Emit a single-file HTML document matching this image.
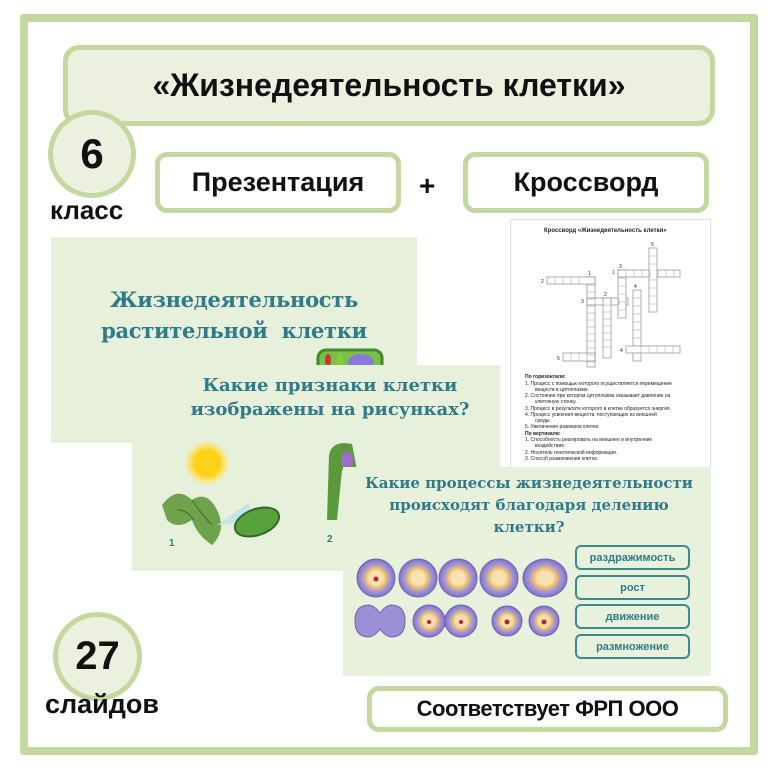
<!DOCTYPE html>
<html><head><meta charset="utf-8"><style>
*{margin:0;padding:0;box-sizing:border-box}
body{width:771px;height:771px;background:#fff;position:relative;overflow:hidden;font-family:"Liberation Sans","DejaVu Sans",sans-serif}
.abs{position:absolute}
.box{position:absolute;border:5px solid #c4d79e;border-radius:12px;display:flex;align-items:center;justify-content:center;font-weight:bold;color:#111}
.circ{position:absolute;border:5px solid #c4d79e;border-radius:50%;background:#ebf1de;display:flex;align-items:center;justify-content:center;font-weight:bold;color:#111}
.slide{position:absolute;background:#e6f0da}
.ser{font-family:"DejaVu Serif",serif;font-weight:bold;font-style:normal;color:#2f7b8a;text-align:center;position:absolute;white-space:nowrap}
.btn{position:absolute;left:575px;width:115px;height:25px;border:2px solid #3c8b8c;border-radius:6px;color:#2f7b8a;font-weight:bold;font-size:11px;display:flex;align-items:center;justify-content:center}
</style></head><body>
<div class="abs" style="left:20px;top:14px;width:738px;height:741px;border:8px solid #c4d79e;border-radius:3px"></div>
<div class="box" style="left:63px;top:45px;width:652px;height:81px;background:#ebf1de;border-radius:16px;font-size:32px">«Жизнедеятельность клетки»</div>
<div class="circ" style="left:48px;top:110px;width:88px;height:88px;font-size:42px">6</div>
<div class="abs" style="left:50px;top:195px;font-size:26px;font-weight:bold;color:#111">класс</div>
<div class="box" style="left:155px;top:152px;width:246px;height:61px;background:#fff;font-size:27px">Презентация</div>
<div class="abs" style="left:419px;top:170px;font-size:28px;font-weight:bold;color:#111">+</div>
<div class="box" style="left:463px;top:152px;width:246px;height:61px;background:#fff;font-size:27px">Кроссворд</div>

<!-- crossword -->
<div class="abs" style="left:510px;top:219px;width:201px;height:255px;background:#fff;border:1px solid #ddd"></div>
<svg class="abs" style="left:0;top:0" width="771" height="771" font-family="Liberation Sans" font-size="5" fill="#222">
<text x="544" y="232" font-weight="bold" font-size="6">Кроссворд «Жизнедеятельность клетки»</text>
<g fill="#fff" stroke="#777" stroke-width="0.6">
<rect x="587" y="277" width="8" height="90"/>
<rect x="547" y="277" width="48" height="7"/>
<rect x="587" y="298" width="41" height="7"/>
<rect x="603" y="298" width="8" height="60"/>
<rect x="618" y="270" width="8" height="48"/>
<rect x="618" y="270" width="62" height="7"/>
<rect x="649" y="248" width="8" height="64"/>
<rect x="633" y="290" width="8" height="71"/>
<rect x="626" y="346" width="54" height="7"/>
<rect x="563" y="353" width="32" height="8"/>
</g>
<g stroke="#888" stroke-width="0.4">
<path d="M555 277v7M563 277v7M571 277v7M579 277v7M587 285h8M587 292h8M587 299h8M587 306h8M587 313h8M587 320h8M587 327h8M587 334h8M587 341h8M587 348h8M587 355h8M587 362h8M595 298v7M611 298v7M619 298v7M603 305h8M603 312h8M603 319h8M603 326h8M603 333h8M603 340h8M603 347h8M626 270v7M634 270v7M642 270v7M650 270v7M658 270v7M666 270v7M674 270v7M618 278h8M618 286h8M618 294h8M618 302h8M618 310h8M649 256h8M649 264h8M649 280h8M649 288h8M649 296h8M649 304h8M633 298h8M633 306h8M633 314h8M633 322h8M633 330h8M633 338h8M641 346v7M649 346v7M657 346v7M665 346v7M673 346v7M571 353v8M579 353v8M587 353v8"/>
</g>
<text x="651" y="246">5</text><text x="619" y="268">3</text><text x="612" y="274">1</text>
<text x="588" y="275">1</text><text x="541" y="283">2</text><text x="581" y="303">3</text>
<text x="604" y="296">2</text><text x="634" y="288">4</text><text x="620" y="352">4</text><text x="557" y="360">5</text>
<text x="525" y="378" font-weight="bold">По горизонтали:</text>
<text x="525" y="385">1.   Процесс с помощью которого осуществляется перемещение</text>
<text x="535" y="391">веществ в цитоплазме.</text>
<text x="525" y="397">2.   Состояние при котором цитоплазма оказывает давление на</text>
<text x="535" y="403">клеточную стенку.</text>
<text x="525" y="410">3.   Процесс в результате которого в клетке образуется энергия.</text>
<text x="525" y="416">4.   Процесс усвоения веществ, поступающих из внешней</text>
<text x="535" y="422">среды.</text>
<text x="525" y="428">5.   Увеличение размеров клетки.</text>
<text x="525" y="435" font-weight="bold">По вертикали:</text>
<text x="525" y="441">1.   Способность реагировать на внешнее и внутренние</text>
<text x="535" y="447">воздействие.</text>
<text x="525" y="454">2.   Носитель генетической информации.</text>
<text x="525" y="460">3.   Способ размножения клеток.</text>
</svg>

<!-- slide 1 -->
<div class="slide" style="left:51px;top:237px;width:366px;height:206px"></div>
<div class="ser" style="left:51px;top:284px;width:366px;font-size:21px;line-height:31px;letter-spacing:-0.3px">Жизнедеятельность<br>растительной&nbsp; клетки</div>
<svg class="abs" style="left:316px;top:348px" width="70" height="20"><rect x="2" y="2" width="64" height="26" rx="8" fill="#7bbf4a" stroke="#3f8a2a" stroke-width="3"/><ellipse cx="12" cy="12" rx="3" ry="6" fill="#c33"/><ellipse cx="24" cy="12" rx="3" ry="6" fill="#8c3"/><ellipse cx="45" cy="14" rx="13" ry="8" fill="#8a7ad8"/></svg>

<!-- slide 2 -->
<div class="slide" style="left:132px;top:365px;width:368px;height:206px"></div>
<div class="ser" style="left:146px;top:374px;width:368px;font-size:18px;line-height:24px">Какие признаки клетки<br>изображены на рисунках?</div>
<svg class="abs" style="left:132px;top:430px" width="368" height="140">
<defs><radialGradient id="sun"><stop offset="0.6" stop-color="#ffd21a"/><stop offset="1" stop-color="#ffe98a" stop-opacity="0.3"/></radialGradient></defs>
<circle cx="75" cy="33" r="22" fill="url(#sun)"/>
<path d="M30 75 Q45 55 60 70 Q75 60 85 80 Q95 100 80 115 Q65 105 60 90 Q45 100 35 90 Z" fill="#6fa24a"/>
<path d="M60 70 Q70 85 80 95 M45 80 Q55 80 62 90" stroke="#3d6b28" fill="none"/>
<path d="M85 95 L118 72 L118 92 Z" fill="#bfe1ef" opacity="0.8"/>
<ellipse cx="125" cy="92" rx="23" ry="13" fill="#58a23c" stroke="#2f6b24" stroke-width="2" transform="rotate(-20 125 92)"/>
<text x="37" y="116" font-family="Liberation Sans" font-weight="bold" font-size="10" fill="#2f7b8a">1</text>
<text x="195" y="112" font-family="Liberation Sans" font-weight="bold" font-size="10" fill="#2f7b8a">2</text>
<path d="M197 25 Q200 10 220 14 L225 40 L210 40 L205 90 L195 90 Z" fill="#5a9a3a"/>
<ellipse cx="215" cy="30" rx="6" ry="9" fill="#9a6fc6"/>
</svg>

<!-- slide 3 -->
<div class="slide" style="left:343px;top:467px;width:368px;height:209px;background:#e7f1db"></div>
<div class="ser" style="left:345px;top:472px;width:368px;font-size:15px;line-height:22px">Какие процессы жизнедеятельности<br>происходят благодаря делению<br>клетки?</div>
<svg class="abs" style="left:343px;top:467px" width="230" height="210">
<defs><radialGradient id="c" cx="0.5" cy="0.5" r="0.5"><stop offset="0.35" stop-color="#f6e2b0"/><stop offset="0.55" stop-color="#e9b868"/><stop offset="0.7" stop-color="#a79ad8"/><stop offset="1" stop-color="#8272c4"/></radialGradient></defs>
<g stroke="#7062b8" stroke-width="1">
<circle cx="33" cy="111" r="19" fill="url(#c)"/>
<circle cx="75" cy="111" r="19" fill="url(#c)"/>
<circle cx="115" cy="111" r="19" fill="url(#c)"/>
<circle cx="156" cy="111" r="19" fill="url(#c)"/>
<ellipse cx="202" cy="111" rx="22" ry="19" fill="url(#c)"/>
<path d="M12 154 Q12 138 26 138 Q32 139 37 146 Q42 139 48 138 Q62 138 62 154 Q62 170 48 170 Q42 169 37 162 Q32 169 26 170 Q12 170 12 154Z" fill="#9c8fd6"/>
<rect x="84" y="148" width="34" height="12" fill="#9c8fd6" stroke="none"/>
<circle cx="86" cy="154" r="16" fill="url(#c)"/>
<circle cx="118" cy="154" r="16" fill="url(#c)"/>
<circle cx="164" cy="154" r="15" fill="url(#c)"/>
<circle cx="201" cy="154" r="15" fill="url(#c)"/>
</g>
<g fill="#c0202a"><circle cx="33" cy="112" r="2.5"/><circle cx="164" cy="155" r="2.5"/><circle cx="201" cy="155" r="2.5"/><circle cx="86" cy="155" r="2"/><circle cx="118" cy="155" r="2"/></g>
</svg>
<div class="btn" style="top:545px">раздражимость</div>
<div class="btn" style="top:575px">рост</div>
<div class="btn" style="top:604px">движение</div>
<div class="btn" style="top:634px">размножение</div>

<div class="circ" style="left:53px;top:612px;width:89px;height:89px;font-size:40px">27</div>
<div class="abs" style="left:45px;top:689px;font-size:27px;font-weight:bold;color:#111">слайдов</div>
<div class="box" style="left:367px;top:686px;width:361px;height:46px;background:#fff;font-size:22px;letter-spacing:-0.5px">Соответствует ФРП ООО</div>
</body></html>
